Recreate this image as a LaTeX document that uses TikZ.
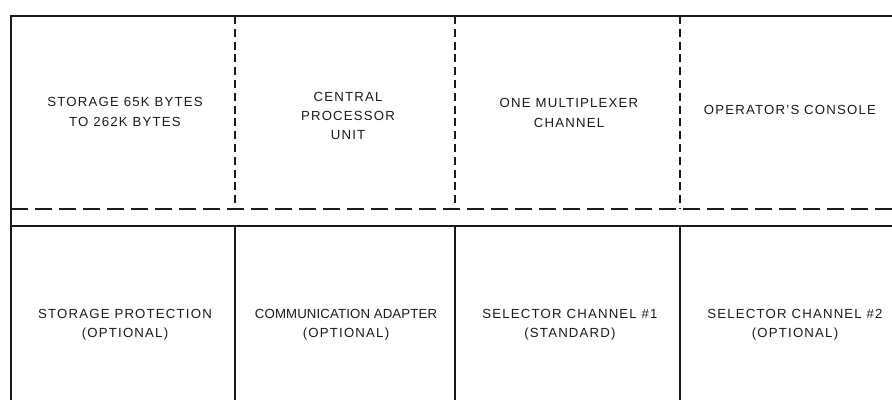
\documentclass[tikz,border=0pt]{standalone}
\usepackage{fontspec}
\setmainfont{Liberation Sans}[LetterSpace=9]
\usepackage{xcolor}
\definecolor{ink}{HTML}{1A1A1A}
\tikzset{
  rule/.style={ink, line width=0.8pt},
  cut/.style={ink, line width=0.8pt, dash pattern=on 0.42cm off 0.18cm},
  cutv/.style={ink, line width=0.8pt, dash pattern=on 0.2cm off 0.12cm},
  unit/.style={font=\fontsize{9.4}{13.6}\selectfont, text=ink, align=center, inner sep=1pt}
}

\begin{document}
\begin{tikzpicture}[x=1cm,y=1cm]
  \useasboundingbox (0,0) rectangle (22.3,10);
  % frame, open to the right and below
  \draw[rule] (0.275,0) -- (0.275,9.6) -- (22.3,9.6);
  \draw[rule] (0.275,4.35) -- (22.3,4.35);
  \draw[cut] (0.275,4.775) -- (22.3,4.775);
  % column walls
  \foreach \x in {5.875,11.375,17.0}{
    \draw[cutv] (\x,9.6) -- (\x,4.775);
    \draw[rule] (\x,4.35) -- (\x,0);
  }
  % basic units
  \node[unit] (stor) at (3.125,7.2) {STORAGE 65K BYTES\\TO 262K BYTES};
  \node[unit] (cpu) at (8.7,7.1) {CENTRAL\\PROCESSOR\\UNIT};
  \node[unit] (mpx) at (14.225,7.175) {ONE MULTIPLEXER\\CHANNEL};
  \node[unit] (cons) at (19.75,7.25) {OPERATOR'S CONSOLE};
  % features
  \node[unit] (prot) at (3.125,1.875) {STORAGE PROTECTION\\(OPTIONAL)};
  \node[unit] (comm) at (8.65,1.875) {\addfontfeatures{LetterSpace=1}COMMUNICATION ADAPTER\\(OPTIONAL)};
  \node[unit] (sel1) at (14.25,1.875) {SELECTOR CHANNEL \#1\\(STANDARD)};
  \node[unit] (sel2) at (19.875,1.875) {SELECTOR CHANNEL \#2\\(OPTIONAL)};
\end{tikzpicture}
\end{document}
